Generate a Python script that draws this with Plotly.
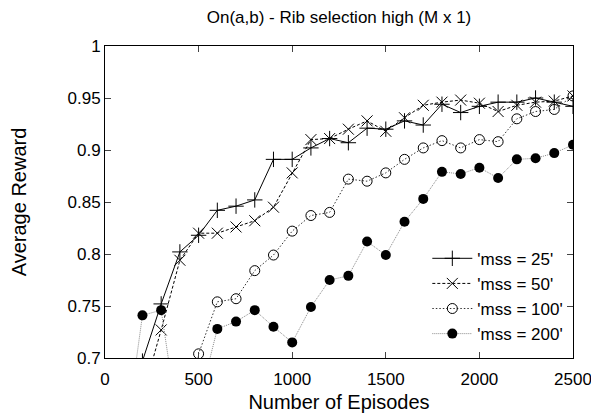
import plotly.graph_objects as go

# episodes and average reward per run (values below 0.7 fall outside the view)
episodes = [100, 200, 300, 400, 500, 600, 700, 800, 900, 1000, 1100, 1200, 1300,
            1400, 1500, 1600, 1700, 1800, 1900, 2000, 2100, 2200, 2300, 2400, 2500]

mss_25 = [0.60, 0.697, 0.752, 0.802, 0.818, 0.842, 0.846, 0.852, 0.891, 0.891, 0.902, 0.911, 0.907,
          0.921, 0.920, 0.928, 0.924, 0.944, 0.936, 0.942, 0.946, 0.946, 0.950, 0.946, 0.942]
mss_50 = [0.60, 0.663, 0.727, 0.794, 0.820, 0.820, 0.826, 0.832, 0.845, 0.878, 0.910, 0.911, 0.920,
          0.928, 0.918, 0.931, 0.943, 0.946, 0.948, 0.945, 0.937, 0.943, 0.946, 0.947, 0.952]
mss_100 = [0.50, 0.52, 0.54, 0.55, 0.704, 0.754, 0.757, 0.784, 0.799, 0.822, 0.837, 0.840, 0.872,
           0.870, 0.878, 0.891, 0.902, 0.909, 0.902, 0.910, 0.908, 0.930, 0.937, 0.939, 0.952]
mss_200 = [0.61, 0.741, 0.746, 0.625, 0.656, 0.728, 0.735, 0.746, 0.730, 0.715, 0.749, 0.775, 0.779,
           0.812, 0.799, 0.831, 0.853, 0.879, 0.877, 0.883, 0.873, 0.891, 0.892, 0.897, 0.905]

x_ticks = [0, 500, 1000, 1500, 2000, 2500]
y_ticks = [0.7, 0.75, 0.8, 0.85, 0.9, 0.95, 1.0]
y_tick_text = ["0.7", "0.75", "0.8", "0.85", "0.9", "0.95", "1"]

FONT = "Liberation Sans, Arial, Helvetica, sans-serif"

series = [
    ("'mss = 25'", mss_25, dict(color="black", width=1, dash="solid"),
     dict(symbol="cross-thin-open", size=11, line=dict(color="black", width=1))),
    ("'mss = 50'", mss_50, dict(color="black", width=1, dash="3px,2px"),
     dict(symbol="x-thin-open", size=11, line=dict(color="black", width=1))),
    ("'mss = 100'", mss_100, dict(color="#333333", width=1, dash="1.5px,2px"),
     dict(symbol="circle-open", size=10, color="black", line=dict(color="black", width=1))),
    ("'mss = 200'", mss_200, dict(color="#8a8a8a", width=1, dash="1px,1px"),
     dict(symbol="circle", size=10, color="black", line=dict(color="black", width=0))),
]

fig = go.Figure()
for name, vals, line, marker in series:
    fig.add_trace(go.Scatter(x=episodes, y=vals, name=name, mode="lines+markers",
                             line=line, marker=marker))

# the page body adds an 8px margin, so the figure is offset by 8px
fig.update_layout(
    width=591, height=406,
    margin=dict(l=97, r=26, t=38, b=56),
    paper_bgcolor="white", plot_bgcolor="white",
    font=dict(family=FONT, size=17, color="black"),
    title=dict(text="On(a,b) - Rib selection high (M x 1)", xref="paper", x=0.5,
               xanchor="center", y=1 - 9 / 406, yanchor="middle", font=dict(size=17)),
    legend=dict(x=0.99, y=0.02, xanchor="right", yanchor="bottom",
                bgcolor="rgba(0,0,0,0)", font=dict(size=17),
                tracegroupgap=0, itemwidth=40),
)
fig.update_xaxes(range=[0, 2500], tickvals=x_ticks, automargin=False,
                 ticks="inside", ticklen=6, mirror="ticks", showline=True,
                 linecolor="black", linewidth=1, showgrid=False, zeroline=False,
                 ticklabelstandoff=6,
                 title=dict(text="Number of Episodes", standoff=6))
fig.update_yaxes(range=[0.7, 1.0], tickvals=y_ticks, ticktext=y_tick_text, automargin=False,
                 ticks="inside", ticklen=6, mirror="ticks", showline=True,
                 linecolor="black", linewidth=1, showgrid=False, zeroline=False,
                 title=dict(text="Average Reward", standoff=36))

fig.write_html("out.html")
